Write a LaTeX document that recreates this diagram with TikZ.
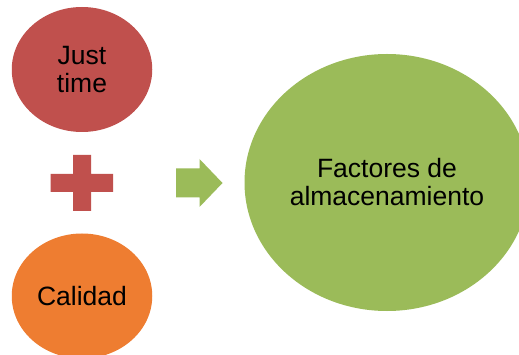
\documentclass[tikz,border=0pt]{standalone}
\usepackage{fontspec}
\setmainfont{Liberation Sans}
\usetikzlibrary{shapes.geometric}
\definecolor{cred}{HTML}{C0504D}
\definecolor{corange}{HTML}{EE7D31}
\definecolor{cgreen}{HTML}{9BBB59}
\tikzset{
  blob/.style={ellipse,inner sep=0pt,align=center,font=\fontsize{26.5}{28}\selectfont,text=black},
  redblob/.style={blob,fill=cred,minimum width=140.5pt,minimum height=125pt},
  orangeblob/.style={blob,fill=corange,minimum width=140.5pt,minimum height=125pt},
  greenblob/.style={blob,fill=cgreen,minimum width=285pt,minimum height=257pt}
}
\begin{document}
\begin{tikzpicture}[x=1pt,y=-1pt]
\useasboundingbox (0,0) rectangle (519,355);
\clip (0,0) rectangle (519,355);
\fill[white] (0,0) rectangle (519,355);
\node[redblob] (just) at (82,69.5) {Just\\time};
\node[orangeblob] (calidad) at (82,296) {Calidad};
\node[greenblob] (factores) at (387,182.5) {Factores de\\almacenamiento};
\fill[cred] (73,155) -- (91,155) -- (91,174) -- (113,174) -- (113,192) -- (91,192) -- (91,211) -- (73,211) -- (73,192) -- (50.5,192) -- (50.5,174) -- (73,174) -- cycle;
\fill[cgreen] (176,168.5) -- (199.5,168.5) -- (199.5,159) -- (222.5,183) -- (199.5,207) -- (199.5,197.5) -- (176,197.5) -- cycle;
\end{tikzpicture}
\end{document}
